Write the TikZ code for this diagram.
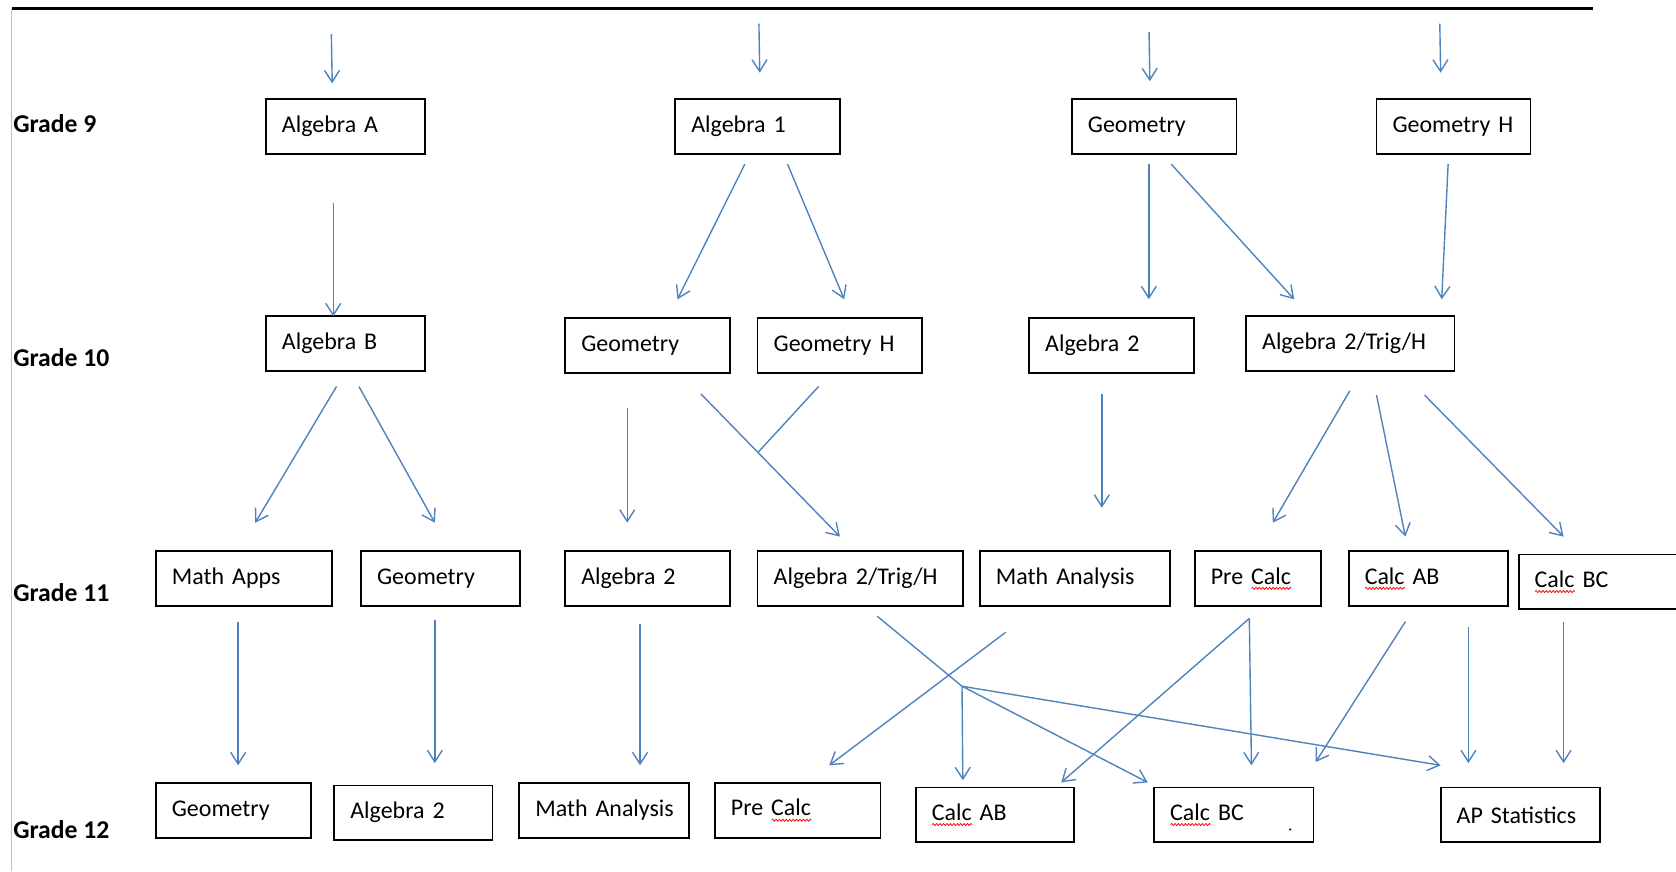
\documentclass[tikz,border=0pt]{standalone}
\usepackage{fontspec}
\setmainfont{Carlito}
\usetikzlibrary{arrows.meta}
\usetikzlibrary{decorations.pathmorphing}
\definecolor{flowblue}{RGB}{79,129,189}
\newsavebox{\errbox}
\newcommand{\spellerr}[1]{\sbox{\errbox}{#1}\rlap{\tikz[baseline=0pt]\draw[red, line width=0.35pt, decorate, decoration={snake, amplitude=0.5pt, segment length=1.6pt}] (0pt,-2pt) -- (\wd\errbox,-2pt);}\usebox{\errbox}}

\begin{document}
\begin{tikzpicture}[x=0.5pt, y=-0.5pt,
    course/.style={draw, line width=0.8pt, anchor=north west, minimum height=25.5pt,
      inner xsep=0pt, inner ysep=0pt, align=left, text width={#1*0.5pt},
      execute at begin node={\hspace*{7.5pt}},
      font=\fontsize{11.2}{13}\selectfont},
    grade/.style={anchor=base west, inner sep=0pt, font=\bfseries\fontsize{12}{14}\selectfont},
    arr/.style={draw=flowblue, line width=0.65pt, -{Straight Barb[length=5.5pt, width=7pt]}},
    link/.style={draw=flowblue, line width=0.65pt}]
    \useasboundingbox (0,0) rectangle (1568,815);
    % page rules
    \draw[black!25, line width=0.6pt] (11,8) -- (11,815);
    \draw[line width=1pt] (11,8) -- (1490,8);
    %
    % Grade labels
    \node[grade] (gr9)  at (12,124) {Grade 9};
    \node[grade] (gr10) at (12,343) {Grade 10};
    \node[grade] (gr11) at (12,563) {Grade 11};
    \node[grade] (gr12) at (12,784) {Grade 12};
    %
    % Grade 9
    \node[course=149] (alga)  at (248,92)  {Algebra A};
    \node[course=154] (alg1)  at (631,92)  {Algebra 1};
    \node[course=154] (geo9)  at (1002,92) {Geometry};
    \node[course=144] (geoh9) at (1287,92) {Geometry H};
    % Grade 10
    \node[course=149] (algb)   at (248,295)  {Algebra B};
    \node[course=154] (geo10)  at (528,297)  {Geometry};
    \node[course=154] (geoh10) at (708,297)  {Geometry H};
    \node[course=154] (alg2x)  at (962,297)  {Algebra 2};
    \node[course=195] (trig10) at (1165,295) {Algebra 2/Trig/H};
    % Grade 11
    \node[course=165] (apps)   at (145,515)  {Math Apps};
    \node[course=149] (geo11)  at (337,515)  {Geometry};
    \node[course=154] (alg2y)  at (528,515)  {Algebra 2};
    \node[course=192] (trig11) at (708,515)  {Algebra 2/Trig/H};
    \node[course=178] (anal11) at (916,515)  {Math Analysis};
    \node[course=118] (pre11)  at (1117,515) {Pre \spellerr{Calc}};
    \node[course=149] (ab11)   at (1261,515) {\spellerr{Calc} AB};
    \node[course=160] (bc11)   at (1420,518) {\spellerr{Calc} BC};
    % Grade 12
    \node[course=145] (geo12)  at (145,732)  {Geometry};
    \node[course=148] (alg2z)  at (312,734)  {Algebra 2};
    \node[course=159] (anal12) at (485,732)  {Math Analysis};
    \node[course=155] (pre12)  at (668,732)  {Pre \spellerr{Calc}};
    \node[course=148] (ab12)   at (856,736)  {\spellerr{Calc} AB};
    \node[course=149] (bc12)   at (1079,736) {\spellerr{Calc} BC};
    \node[course=149] (stat12) at (1347,736) {AP Statistics};
    \fill (1207,776) circle[radius=1.1];
    %
    % Entry arrows:
    \coordinate (in1) at (310,32);
    \coordinate (in2) at (710,22);
    \coordinate (in3) at (1075,30);
    \coordinate (in4) at (1347,22);
    \draw[arr] (in1) -- ([shift={(-12.5,-14)}]alga.north);
    \draw[arr] (in2) -- ([shift={(2,-24)}]alg1.north);
    \draw[arr] (in3) -- ([shift={(-4,-16)}]geo9.north);
    \draw[arr] (in4) -- ([shift={(-12,-24)}]geoh9.north);
    %
    % Grade 9 to Grade 10:
    \draw[arr] ([shift={(-11.5,45)}]alga.south) -- ([shift={(-11.5,1)}]algb.north);
    \draw[arr] ([shift={(-12,9)}]alg1.south) -- ([shift={(28,-17)}]geo10.north);
    \draw[arr] ([shift={(28,9)}]alg1.south) -- ([shift={(4,-17)}]geoh10.north);
    \draw[arr] ([shift={(-5,9)}]geo9.south) -- ([shift={(35,-17)}]alg2x.north);
    \draw[arr] ([shift={(16,9)}]geo9.south) -- ([shift={(-52.5,-15)}]trig10.north);
    \draw[arr] ([shift={(-5,9)}]geoh9.south) -- ([shift={(85.5,-15)}]trig10.north);
    %
    % Grade 10 to Grade 11:
    \draw[arr] ([shift={(-8.5,14)}]algb.south) -- ([shift={(10.5,-26)}]apps.north);
    \draw[arr] ([shift={(12.5,14)}]algb.south) -- ([shift={(-5.5,-26)}]geo11.north);
    \draw[arr] ([shift={(-19,32)}]geo10.south) -- ([shift={(-19,-26)}]alg2y.north);
    \draw[arr] ([shift={(50,19)}]geo10.south) -- coordinate[pos=0.41] (mrg) ([shift={(-19,-13)}]trig11.north);
    \draw[link] ([shift={(-20,12)}]geoh10.south) -- (mrg);
    \draw[arr] ([shift={(-9,19)}]alg2x.south) -- ([shift={(25,-40)}]anal11.north);
    \draw[arr] ([shift={(-0.5,18)}]trig10.south) -- ([shift={(14,-26)}]pre11.north);
    \draw[arr] ([shift={(24.5,22)}]trig10.south) -- ([shift={(-21.5,-13)}]ab11.north);
    \draw[arr] ([shift={(69.5,22)}]trig10.south) -- ([shift={(-38,-16)}]bc11.north);
    %
    % Grade 11 to Grade 12:
    \draw[arr] ([shift={(-5.5,14)}]apps.south) -- ([shift={(4.5,-16)}]geo12.north);
    \draw[arr] ([shift={(-5.5,12)}]geo11.south) -- ([shift={(20,-20)}]alg2z.north);
    \draw[arr] ([shift={(-7,16)}]alg2y.south) -- ([shift={(33.5,-16)}]anal12.north);
    \coordinate (jn) at (900,642);
    \draw[link] ([shift={(16,9)}]trig11.south) -- (jn);
    \draw[arr] (jn) -- ([shift={(-30,-6)}]ab12.north);
    \draw[arr] (jn) -- ([shift={(-80.5,-4)}]bc12.north);
    \draw[arr] (jn) -- ([shift={(-74.5,-20)}]stat12.north);
    \draw[arr] ([shift={(-65,24)}]anal11.south) -- ([shift={(29.5,-16)}]pre12.north);
    \draw[arr] ([shift={(-8,11)}]pre11.south) -- ([shift={(62,-4)}]ab12.north);
    \draw[arr] ([shift={(-8,11)}]pre11.south) -- ([shift={(16.5,-20)}]bc12.north);
    \draw[arr] ([shift={(-21.5,14)}]ab11.south) -- ([shift={(76.5,-23)}]bc12.north);
    \draw[arr] ([shift={(37.5,19)}]ab11.south) -- ([shift={(-48.5,-22)}]stat12.north);
    \draw[arr] ([shift={(-38,11)}]bc11.south) -- ([shift={(40.5,-22)}]stat12.north);
\end{tikzpicture}
\end{document}
